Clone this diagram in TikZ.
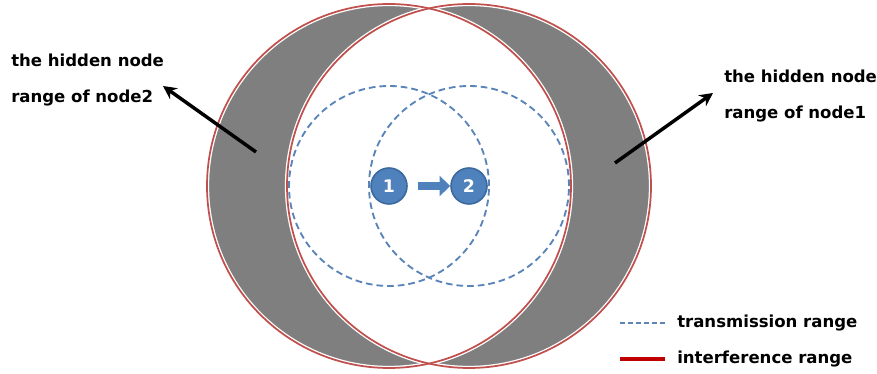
\documentclass[tikz,border=0pt]{standalone}
\usepackage{fontspec}
\setmainfont{DejaVu Sans}
\usepackage{tikz}
\usetikzlibrary{arrows.meta,positioning}
\definecolor{hnred}    {HTML}{C0504D}
\definecolor{hnlegred} {HTML}{C00000}
\definecolor{hnblue}   {HTML}{4F81BD}
\definecolor{hnedge}   {HTML}{3A6A9E}
\definecolor{hndash}   {HTML}{5B84B8}
\definecolor{hngray}   {HTML}{7F7F7F}
\tikzset{
  hnnode/.style={circle, draw=hnedge, fill=hnblue, line width=1.2pt, minimum size=27pt,
                 inner sep=0pt, text=white, font=\bfseries\fontsize{13}{15}\selectfont},
  hnrange/.style={draw=hnred, line width=1.3pt},
  hngap/.style={draw=white, line width=3.2pt},
  hntx/.style={draw=hndash, dashed, dash pattern=on 5pt off 3pt, line width=1.4pt},
  hnlabel/.style={font=\bfseries\fontsize{12.4}{27}\selectfont, align=left, inner sep=0pt},
  hnpoint/.style={-{Stealth[length=10pt,width=10pt]}, line width=2.6pt, draw=black},
  hnsend/.style={-{Triangle[length=8pt,width=15pt]}, line width=5.5pt, draw=hnblue},
}
\begin{document}
\begin{tikzpicture}[x=0.75pt,y=0.75pt]
  \useasboundingbox (0,0) rectangle (877,374);
  \coordinate (c1) at (389,188);
  \coordinate (c2) at (469,188);
  % hidden node areas
  \fill[hngray, even odd rule] (c1) circle[radius=182] (c2) circle[radius=182];
  \draw[hngap] (c1) circle[radius=182];
  \draw[hngap] (c2) circle[radius=182];
  \draw[hnrange] (c1) circle[radius=182];
  \draw[hnrange] (c2) circle[radius=182];
  \draw[hntx] (c1) circle[radius=100];
  \draw[hntx] (c2) circle[radius=100];
  % the two nodes
  \node[hnnode] (n1) at (c1) {1};
  \node[hnnode] (n2) at (c2) {2};
  \draw[hnsend, shorten <=8pt] (n1) -- (n2);
  % labels
  \node[hnlabel, anchor=west] (lblL) at (11,294) {the hidden node\\range of node2};
  \node[hnlabel, anchor=west] (lblR) at (724,278) {the hidden node\\range of node1};
  \coordinate (tailL) at (256,222);
  \coordinate (tipL) at (163,288);
  \coordinate (tailR) at (615,211);
  \coordinate (tipR) at (713,281);
  \draw[hnpoint] (tailL) -- (tipL);
  \draw[hnpoint] (tailR) -- (tipR);
  % legend
  \coordinate (legA) at (620,51);
  \coordinate (legB) at (665,51);
  \coordinate (legC) at (620,15);
  \coordinate (legD) at (665,15);
  \draw[hntx, line width=1.2pt, dash pattern=on 4pt off 2pt] (legA) -- (legB);
  \draw[draw=hnlegred, line width=2.4pt] (legC) -- (legD);
  \node[hnlabel, anchor=west] (legtx) at (677,51) {transmission range};
  \node[hnlabel, anchor=west] (legif) at (677,15) {interference range};
\end{tikzpicture}
\end{document}
